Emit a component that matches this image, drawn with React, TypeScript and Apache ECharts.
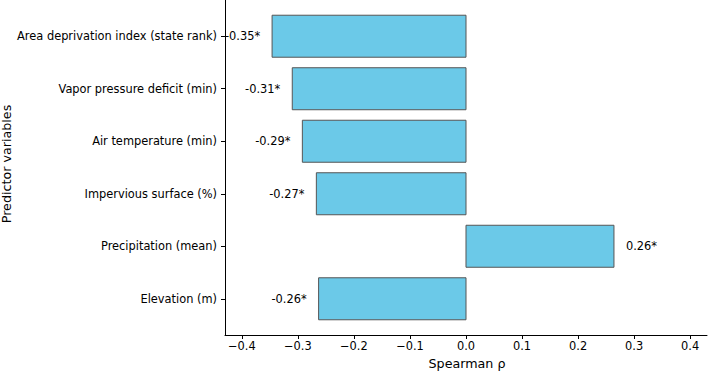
import React, { useEffect, useRef } from "react";
import * as echarts from "echarts";

// Predictor variables, top to bottom
const categories = [
  "Area deprivation index (state rank)",
  "Vapor pressure deficit (min)",
  "Air temperature (min)",
  "Impervious surface (%)",
  "Precipitation (mean)",
  "Elevation (m)",
];

// Spearman correlation coefficients
const rhoValues = [-0.346, -0.31, -0.292, -0.267, 0.264, -0.263];

// Significance flags (all significant)
const significant = [true, true, true, true, true, true];

const xTicks = [-0.4, -0.3, -0.2, -0.1, 0.0, 0.1, 0.2, 0.3, 0.4];

const FONT = "DejaVu Sans";
const FS = 11.4;
const TITLE_FS = 12.7;

export default function App() {
  const ref = useRef<HTMLDivElement>(null);

  useEffect(() => {
    if (!ref.current) return;
    const chart = echarts.init(ref.current, null, { renderer: "svg" });
    const yIdx = categories.map((_, i) => i);

    chart.setOption({
      animation: false,
      backgroundColor: "#ffffff",
      grid: { left: 225, right: 1, top: 0, bottom: 36 },
      xAxis: {
        type: "value",
        min: -0.43,
        max: 0.43,
        axisLine: { show: true, onZero: false, lineStyle: { color: "#000", width: 1 } },
        axisTick: { show: true, length: 4, customValues: xTicks, lineStyle: { color: "#000" } },
        axisLabel: {
          customValues: xTicks,
          margin: 5,
          color: "#000",
          fontFamily: FONT,
          fontSize: FS,
          formatter: (v: number) =>
            (v < -1e-9 ? "\u2212" : "") + Math.abs(v).toFixed(1),
        },
        splitLine: { show: false },
      },
      yAxis: {
        type: "value",
        min: -0.69,
        max: 5.69,
        inverse: true,
        axisLine: { show: true, onZero: false, lineStyle: { color: "#000", width: 1 } },
        axisTick: { show: true, length: 4, customValues: yIdx, lineStyle: { color: "#000" } },
        axisLabel: {
          customValues: yIdx,
          margin: 8,
          color: "#000",
          fontFamily: FONT,
          fontSize: FS,
          formatter: (v: number) => categories[Math.round(v)] ?? "",
        },
        splitLine: { show: false },
      },
      graphic: [
        {
          type: "text",
          x: 6,
          y: 164,
          rotation: Math.PI / 2,
          style: {
            text: "Predictor variables",
            fontFamily: FONT,
            fontSize: TITLE_FS,
            fill: "#000",
            align: "center",
            verticalAlign: "middle",
          },
        },
        {
          type: "text",
          x: 467,
          y: 363,
          style: {
            text: "Spearman \u03c1",
            fontFamily: FONT,
            fontSize: TITLE_FS,
            fill: "#000",
            align: "center",
            verticalAlign: "middle",
          },
        },
      ],
      series: [
        {
          type: "custom",
          encode: { x: 0, y: 1 },
          data: rhoValues.map((v, i) => [v, i]),
          renderItem: (_params: any, api: any) => {
            const v = api.value(0) as number;
            const i = api.value(1) as number;
            const p0 = api.coord([0, i]);
            const p1 = api.coord([v, i]);
            const h = api.size([0, 0.8])[1];
            const label = v.toFixed(2) + (significant[i] ? "*" : "");
            return {
              type: "group",
              children: [
                {
                  type: "rect",
                  shape: {
                    x: Math.min(p0[0], p1[0]),
                    y: p0[1] - h / 2,
                    width: Math.abs(p1[0] - p0[0]),
                    height: h,
                  },
                  style: { fill: "#6bc9e8", stroke: "#555555", lineWidth: 1 },
                },
                {
                  type: "text",
                  x: v < 0 ? p1[0] - 12 : p1[0] + 12,
                  y: p0[1],
                  style: {
                    text: label,
                    fontFamily: FONT,
                    fontSize: FS,
                    fill: "#000",
                    align: v < 0 ? "right" : "left",
                    verticalAlign: "middle",
                  },
                },
              ],
            };
          },
        },
      ],
    });

    return () => chart.dispose();
  }, []);

  return (
    <div
      ref={ref}
      style={{ position: "fixed", left: 0, top: 0, width: 708, height: 371 }}
    />
  );
}
